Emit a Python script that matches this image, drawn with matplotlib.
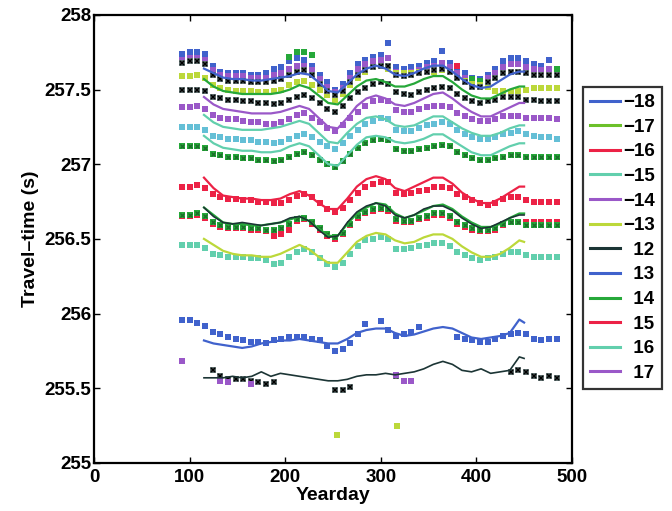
import numpy as np
import matplotlib
matplotlib.use("Agg")
import matplotlib.pyplot as plt
from matplotlib.lines import Line2D

plt.rcParams['font.family'] = ['Liberation Sans', 'DejaVu Sans']
plt.rcParams['font.weight'] = 'bold'

# ---- data ----
# yearday grid of the measured travel times
day_obs = [92, 100, 108, 116, 124, 132, 140, 148, 156, 164, 172, 180, 188, 196, 204, 212, 220,
           228, 236, 244, 252, 260, 268, 276, 284, 292, 300, 308, 316, 324, 332, 340, 348,
           356, 364, 372, 380, 388, 396, 404, 412, 420, 428, 436, 444, 452, 460, 468, 476, 484]
# yearday grid of the model curves
day_mod = [115, 125, 135, 145, 155, 165, 175, 185, 195, 205, 215, 225, 235, 245, 255, 265, 275,
           285, 295, 305, 315, 325, 335, 345, 355, 365, 375, 385, 395, 405, 415, 425, 435, 445, 450]

nan = np.nan

# measured (square markers)
obs_blue_top = [257.74, 257.75, 257.75, 257.74, 257.66, 257.62, 257.61, 257.61, 257.61, 257.60, 257.60,
                257.61, 257.64, 257.65, 257.69, 257.71, 257.70, 257.66, 257.60, 257.55, 257.50, 257.54,
                257.61, 257.67, 257.70, 257.72, 257.73, 257.81, 257.65, 257.64, 257.65, 257.66, 257.68,
                257.69, 257.76, 257.68, 257.65, 257.61, 257.58, 257.57, 257.60, 257.64, 257.69, 257.71,
                257.71, 257.69, 257.67, 257.66, 257.70, 257.64]
obs_purple_top = [257.70, 257.71, 257.71, 257.70, 257.63, 257.60, 257.59, 257.59, 257.59, 257.58, 257.58,
                  257.58, 257.60, 257.61, 257.64, 257.66, 257.66, 257.63, 257.57, 257.52, 257.48, 257.51,
                  257.58, 257.64, 257.67, 257.69, 257.70, 257.71, 257.62, 257.61, 257.62, 257.63, 257.65,
                  257.66, 257.68, 257.65, 257.61, 257.58, 257.55, 257.55, 257.58, 257.61, 257.65, 257.67,
                  257.67, 257.65, 257.64, 257.63, 257.64, 257.62]
obs_black_top = [257.68, 257.69, 257.69, 257.67, 257.60, 257.57, 257.56, 257.56, 257.56, 257.55, 257.55,
                 257.55, 257.56, 257.57, 257.60, 257.62, 257.63, 257.60, 257.54, 257.49, 257.46, 257.49,
                 257.55, 257.60, 257.63, 257.65, 257.66, 257.66, 257.60, 257.59, 257.60, 257.61, 257.62,
                 257.63, 257.64, 257.62, 257.58, 257.55, 257.52, 257.52, 257.55, 257.58, 257.61, 257.62,
                 257.62, 257.61, 257.60, 257.60, 257.60, 257.60]
obs_ygreen = [257.59, 257.59, 257.60, 257.58, 257.53, 257.51, 257.50, 257.49, 257.49, 257.49, 257.48,
              257.48, 257.49, 257.50, 257.53, 257.55, 257.56, 257.53, 257.50, 257.46, 257.43, 257.47,
              257.53, 257.58, 257.62, 257.65, 257.66, 257.64, 257.61, 257.61, 257.61, 257.62, 257.62,
              257.62, 257.63, 257.62, 257.58, 257.56, 257.54, 257.53, 257.52, 257.49, 257.49, 257.48,
              257.49, 257.50, 257.51, 257.51, 257.51, 257.51]
obs_black_2 = [257.50, 257.50, 257.50, 257.49, 257.45, 257.44, 257.43, 257.43, 257.42, 257.42, 257.41,
               257.41, 257.40, 257.41, 257.43, 257.45, 257.46, 257.44, 257.41, 257.37, 257.35, 257.39,
               257.44, 257.48, 257.51, 257.54, 257.55, 257.54, 257.48, 257.47, 257.46, 257.48, 257.50,
               257.51, 257.52, 257.51, 257.47, 257.44, 257.42, 257.41, 257.42, 257.43, 257.45, 257.45,
               257.45, 257.43, 257.43, 257.42, 257.42, 257.42]
obs_purple = [257.38, 257.38, 257.39, 257.37, 257.33, 257.31, 257.30, 257.30, 257.29, 257.28, 257.28,
              257.27, 257.27, 257.28, 257.30, 257.33, 257.34, 257.31, 257.28, 257.24, 257.22, 257.26,
              257.31, 257.35, 257.39, 257.42, 257.43, 257.42, 257.36, 257.35, 257.35, 257.37, 257.38,
              257.39, 257.39, 257.38, 257.34, 257.32, 257.30, 257.29, 257.29, 257.30, 257.32, 257.32,
              257.32, 257.31, 257.31, 257.31, 257.31, 257.30]
obs_cyan = [257.25, 257.25, 257.25, 257.23, 257.19, 257.18, 257.17, 257.17, 257.16, 257.16, 257.15,
            257.15, 257.14, 257.15, 257.17, 257.19, 257.20, 257.18, 257.15, 257.12, 257.10, 257.14,
            257.19, 257.23, 257.27, 257.29, 257.31, 257.30, 257.23, 257.22, 257.22, 257.24, 257.26,
            257.27, 257.28, 257.27, 257.23, 257.20, 257.18, 257.17, 257.17, 257.18, 257.20, 257.21,
            257.22, 257.20, 257.19, 257.18, 257.18, 257.17]
obs_green = [257.12, 257.12, 257.12, 257.11, 257.07, 257.06, 257.05, 257.05, 257.04, 257.04, 257.03,
             257.03, 257.02, 257.03, 257.05, 257.07, 257.08, 257.06, 257.03, 257.00, 256.98, 257.02,
             257.07, 257.11, 257.14, 257.16, 257.17, 257.16, 257.10, 257.09, 257.09, 257.10, 257.11,
             257.12, 257.13, 257.12, 257.08, 257.06, 257.04, 257.03, 257.03, 257.04, 257.05, 257.06,
             257.06, 257.05, 257.05, 257.05, 257.05, 257.05]
obs_red = [256.85, 256.85, 256.86, 256.84, 256.80, 256.78, 256.77, 256.77, 256.76, 256.76, 256.75,
           256.75, 256.74, 256.74, 256.76, 256.79, 256.80, 256.78, 256.74, 256.70, 256.68, 256.71,
           256.76, 256.81, 256.85, 256.87, 256.88, 256.88, 256.81, 256.80, 256.81, 256.82, 256.83,
           256.85, 256.85, 256.84, 256.80, 256.78, 256.76, 256.74, 256.73, 256.74, 256.77, 256.78,
           256.78, 256.76, 256.75, 256.75, 256.75, 256.75]
obs_red_2 = [256.65, 256.65, 256.66, 256.64, 256.60, 256.58, 256.57, 256.57, 256.57, 256.56, 256.56,
             256.55, 256.52, 256.53, 256.56, 256.62, 256.63, 256.60, 256.56, 256.52, 256.50, 256.53,
             256.59, 256.64, 256.67, 256.69, 256.70, 256.69, 256.62, 256.61, 256.61, 256.63, 256.64,
             256.66, 256.66, 256.64, 256.60, 256.58, 256.56, 256.55, 256.55, 256.56, 256.59, 256.61,
             256.61, 256.61, 256.61, 256.61, 256.61, 256.61]
obs_green_2 = [256.66, 256.66, 256.67, 256.65, 256.61, 256.59, 256.58, 256.58, 256.58, 256.57, 256.57,
               256.56, 256.56, 256.57, 256.60, 256.63, 256.64, 256.61, 256.57, 256.53, 256.51, 256.54,
               256.60, 256.65, 256.68, 256.70, 256.71, 256.70, 256.63, 256.62, 256.62, 256.64, 256.65,
               256.67, 256.67, 256.65, 256.61, 256.59, 256.57, 256.56, 256.56, 256.57, 256.60, 256.61,
               256.61, 256.59, 256.59, 256.59, 256.59, 256.59]
obs_teal = [256.46, 256.46, 256.46, 256.44, 256.40, 256.39, 256.38, 256.38, 256.38, 256.37, 256.37,
            256.36, 256.33, 256.34, 256.38, 256.41, 256.43, 256.41, 256.37, 256.33, 256.31, 256.34,
            256.40, 256.45, 256.49, 256.50, 256.51, 256.50, 256.43, 256.43, 256.44, 256.45, 256.46,
            256.47, 256.47, 256.45, 256.41, 256.39, 256.37, 256.36, 256.37, 256.38, 256.40, 256.41,
            256.41, 256.39, 256.38, 256.38, 256.38, 256.38]
obs_blue_low = [255.96, 255.96, 255.94, 255.92, 255.88, 255.86, 255.84, 255.83, 255.82, 255.81, 255.81,
                255.80, 255.82, 255.83, 255.84, 255.84, 255.84, 255.83, 255.82, 255.78, 255.75, 255.76,
                255.80, 255.86, 255.93, nan, 255.95, 255.89, 255.85, 255.86, 255.88, 255.91, nan,
                nan, nan, nan, 255.84, 255.83, 255.82, 255.81, 255.81, 255.83, 255.85, 255.86,
                255.87, 255.86, 255.83, 255.82, 255.83, 255.83]
obs_black_low = [nan, nan, nan, nan, 255.62, 255.58, 255.56, 255.56, 255.56, 255.55, 255.54,
                 255.53, 255.54, nan, nan, nan, nan, nan, nan, nan, 255.49, 255.49,
                 255.51, nan, nan, nan, nan, nan, 255.58, 255.55, nan, nan, nan,
                 nan, nan, nan, nan, nan, nan, nan, nan, nan, nan, 255.61,
                 255.62, 255.61, 255.58, 255.57, 255.58, 255.57]
obs_purple_low = [255.68, nan, nan, nan, nan, 255.55, 255.54, nan, nan, 255.53, nan,
                  nan, nan, nan, nan, nan, nan, nan, nan, nan, nan, nan,
                  nan, nan, nan, nan, nan, nan, 255.59, 255.55, 255.55, nan, nan,
                  nan, nan, nan, nan, nan, nan, nan, nan, nan, nan, nan,
                  nan, nan, nan, nan, nan, nan]
# stray points
green_top_day = [204, 212, 220, 228, 396, 404, 484]
green_top_val = [257.72, 257.75, 257.75, 257.73, 257.57, 257.56, 257.64]
red_top_day = [380]
red_top_val = [257.66]
ygreen_low_day = [254, 317]
ygreen_low_val = [255.19, 255.25]

# model curves
mod_blue_top = [257.64, 257.61, 257.58, 257.57, 257.57, 257.56, 257.56, 257.57, 257.58, 257.59, 257.61,
                257.60, 257.55, 257.49, 257.48, 257.54, 257.60, 257.64, 257.66, 257.64, 257.60, 257.59,
                257.61, 257.64, 257.66, 257.66, 257.62, 257.57, 257.53, 257.51, 257.52, 257.56, 257.60,
                257.62, 257.62]
mod_green_top = [257.57, 257.52, 257.49, 257.48, 257.47, 257.47, 257.47, 257.47, 257.48, 257.50, 257.53,
                 257.51, 257.46, 257.41, 257.40, 257.46, 257.52, 257.56, 257.57, 257.55, 257.52, 257.52,
                 257.54, 257.57, 257.59, 257.59, 257.55, 257.50, 257.46, 257.44, 257.44, 257.47, 257.50,
                 257.52, 257.52]
mod_purple = [257.45, 257.40, 257.37, 257.36, 257.35, 257.34, 257.34, 257.34, 257.35, 257.37, 257.39,
              257.37, 257.31, 257.25, 257.24, 257.31, 257.39, 257.44, 257.46, 257.44, 257.40, 257.39,
              257.41, 257.44, 257.47, 257.48, 257.44, 257.39, 257.35, 257.32, 257.32, 257.35, 257.38,
              257.41, 257.41]
mod_teal_1 = [257.33, 257.28, 257.25, 257.24, 257.23, 257.23, 257.23, 257.24, 257.25, 257.27, 257.29,
              257.27, 257.21, 257.15, 257.14, 257.21, 257.27, 257.31, 257.32, 257.30, 257.26, 257.25,
              257.26, 257.29, 257.32, 257.32, 257.28, 257.24, 257.21, 257.19, 257.19, 257.21, 257.24,
              257.26, 257.26]
mod_teal_2 = [257.19, 257.14, 257.11, 257.10, 257.09, 257.09, 257.08, 257.08, 257.09, 257.12, 257.14,
              257.12, 257.06, 257.00, 256.99, 257.06, 257.13, 257.18, 257.19, 257.18, 257.15, 257.14,
              257.15, 257.17, 257.20, 257.20, 257.16, 257.12, 257.08, 257.06, 257.06, 257.09, 257.12,
              257.14, 257.14]
mod_red = [256.91, 256.84, 256.79, 256.78, 256.77, 256.77, 256.76, 256.76, 256.77, 256.80, 256.82,
           256.79, 256.74, 256.70, 256.70, 256.77, 256.85, 256.90, 256.92, 256.90, 256.84, 256.82,
           256.85, 256.88, 256.91, 256.91, 256.87, 256.81, 256.77, 256.74, 256.74, 256.77, 256.81,
           256.85, 256.85]
mod_green_mid = [256.71, 256.66, 256.61, 256.60, 256.60, 256.59, 256.59, 256.60, 256.61, 256.63, 256.65,
                 256.62, 256.57, 256.52, 256.52, 256.60, 256.67, 256.71, 256.74, 256.73, 256.67, 256.64,
                 256.66, 256.69, 256.72, 256.73, 256.70, 256.65, 256.61, 256.58, 256.58, 256.60, 256.64,
                 256.67, 256.67]
mod_black_mid = [256.71, 256.65, 256.61, 256.60, 256.61, 256.60, 256.59, 256.60, 256.61, 256.64, 256.65,
                 256.62, 256.56, 256.51, 256.52, 256.61, 256.68, 256.72, 256.74, 256.72, 256.66, 256.64,
                 256.66, 256.70, 256.72, 256.72, 256.69, 256.64, 256.60, 256.57, 256.58, 256.61, 256.64,
                 256.66, 256.66]
mod_ygreen = [256.50, 256.46, 256.42, 256.40, 256.39, 256.39, 256.38, 256.38, 256.40, 256.43, 256.46,
              256.43, 256.38, 256.34, 256.34, 256.41, 256.48, 256.52, 256.54, 256.53, 256.49, 256.47,
              256.48, 256.51, 256.53, 256.53, 256.50, 256.45, 256.41, 256.38, 256.38, 256.40, 256.44,
              256.49, 256.48]
mod_blue_low = [255.82, 255.80, 255.79, 255.78, 255.77, 255.78, 255.80, 255.81, 255.82, 255.82, 255.83,
                255.82, 255.81, 255.80, 255.80, 255.83, 255.87, 255.89, 255.90, 255.90, 255.87, 255.85,
                255.86, 255.88, 255.90, 255.91, 255.90, 255.87, 255.84, 255.83, 255.84, 255.85, 255.87,
                255.96, 255.94]
mod_black_low = [255.57, 255.57, 255.57, 255.58, 255.57, 255.58, 255.61, 255.58, 255.60, 255.59, 255.58,
                 255.57, 255.56, 255.55, 255.55, 255.56, 255.58, 255.59, 255.59, 255.60, 255.59, 255.60,
                 255.61, 255.63, 255.66, 255.68, 255.66, 255.62, 255.61, 255.63, 255.60, 255.61, 255.62,
                 255.71, 255.70]

legend_labels = ['\u221218', '\u221217', '\u221216', '\u221215', '\u221214', '\u221213',
                 '\u200212', '\u200213', '\u200214', '\u200215', '\u200216', '\u200217']

# ---- colours ----
c_blue = '#4062cc'
c_green = '#26a83a'
c_lgreen = '#6cc02a'
c_red = '#ec2246'
c_teal = '#62cfad'
c_cyan = '#64bfd6'
c_purple = '#9a58c8'
c_ygreen = '#bcd83a'
c_black = '#1c3535'
legend_colors = [c_blue, c_lgreen, c_red, c_teal, c_purple, c_ygreen,
                 c_black, c_blue, c_green, c_red, c_teal, c_purple]

fig = plt.figure(figsize=(6.72, 5.11), dpi=100)
ax = fig.add_axes([0.140, 0.094, 0.711, 0.877])

ms = 4.4


def squares(x, y, color, z=2):
    ax.plot(x, y, 's', color=color, ms=ms, mew=0, zorder=z)


def crosses(x, y, color, z=3):
    ax.plot(x, y, 's', color='#5f6f6f', ms=ms, mew=0, zorder=z)
    ax.plot(x, y, 'x', color=color, ms=3.2, mew=1.1, zorder=z + 0.1)


# measured
squares(day_obs, obs_blue_top, c_blue)
squares(day_obs, obs_purple_top, c_purple)
crosses(day_obs, obs_black_top, 'black')
squares(green_top_day, green_top_val, c_green)
squares(red_top_day, red_top_val, c_red)
squares(day_obs, obs_ygreen, c_ygreen)
crosses(day_obs, obs_black_2, 'black')
squares(day_obs, obs_purple, c_purple)
squares(day_obs, obs_cyan, c_cyan)
squares(day_obs, obs_green, c_green)
ax.plot(day_obs, obs_green, 'x', color='#1d6b2a', ms=3.0, mew=0.9, zorder=2.1)
squares(day_obs, obs_red, c_red)
squares(day_obs, obs_red_2, c_red)
squares(day_obs, obs_green_2, c_green)
ax.plot(day_obs, obs_green_2, 'x', color='#1d6b2a', ms=3.0, mew=0.9, zorder=2.1)
squares(day_obs, obs_teal, c_teal)
squares(day_obs, obs_blue_low, c_blue)
crosses(day_obs, obs_black_low, 'black')
squares(day_obs, obs_purple_low, c_purple, z=3.5)
squares(ygreen_low_day, ygreen_low_val, c_ygreen)

# model
lw = 1.6
ax.plot(day_mod, mod_blue_top, color=c_blue, lw=lw, zorder=4)
ax.plot(day_mod, mod_green_top, color=c_green, lw=lw, zorder=4)
ax.plot(day_mod, mod_purple, color=c_purple, lw=lw, zorder=4)
ax.plot(day_mod, mod_teal_1, color=c_teal, lw=lw, zorder=4)
ax.plot(day_mod, mod_teal_2, color=c_teal, lw=lw, zorder=4)
ax.plot(day_mod, mod_red, color=c_red, lw=lw, zorder=4)
ax.plot(day_mod, mod_green_mid, color=c_green, lw=lw, zorder=4)
ax.plot(day_mod, mod_black_mid, color=c_black, lw=1.2, zorder=4.1)
ax.plot(day_mod, mod_ygreen, color=c_ygreen, lw=lw, zorder=4)
ax.plot(day_mod, mod_blue_low, color=c_blue, lw=lw, zorder=4)
ax.plot(day_mod, mod_black_low, color=c_black, lw=1.2, zorder=4)

ax.set_xlim(0, 500)
ax.set_ylim(255, 258)
ax.set_xticks([0, 100, 200, 300, 400, 500])
ax.set_yticks([255, 255.5, 256, 256.5, 257, 257.5, 258])
ax.set_yticklabels(['255', '255.5', '256', '256.5', '257', '257.5', '258'])
ax.tick_params(direction='in', top=True, right=True, length=4, width=1,
               labelsize=13.5, pad=2)
ax.tick_params(axis='x', pad=4)
for lab in ax.get_xticklabels() + ax.get_yticklabels():
    lab.set_fontweight('bold')
for sp in ax.spines.values():
    sp.set_linewidth(1.6)
ax.set_xlabel('Yearday', fontsize=14, fontweight='bold', labelpad=1)
ax.set_ylabel('Travel\u2013time (s)', fontsize=14, fontweight='bold', labelpad=4)

handles = [Line2D([], [], color=c, lw=2.2) for c in legend_colors]
leg = fig.legend(handles, legend_labels, loc='upper left', bbox_to_anchor=(0.868, 0.829),
                 prop={'weight': 'bold', 'size': 13.5}, frameon=True, fancybox=False,
                 handlelength=1.6, handletextpad=0.2, labelspacing=0.40, borderpad=0.35,
                 borderaxespad=0)
leg.get_frame().set_edgecolor('black')
leg.get_frame().set_linewidth(1.6)

fig.savefig('out.png', dpi=100)
